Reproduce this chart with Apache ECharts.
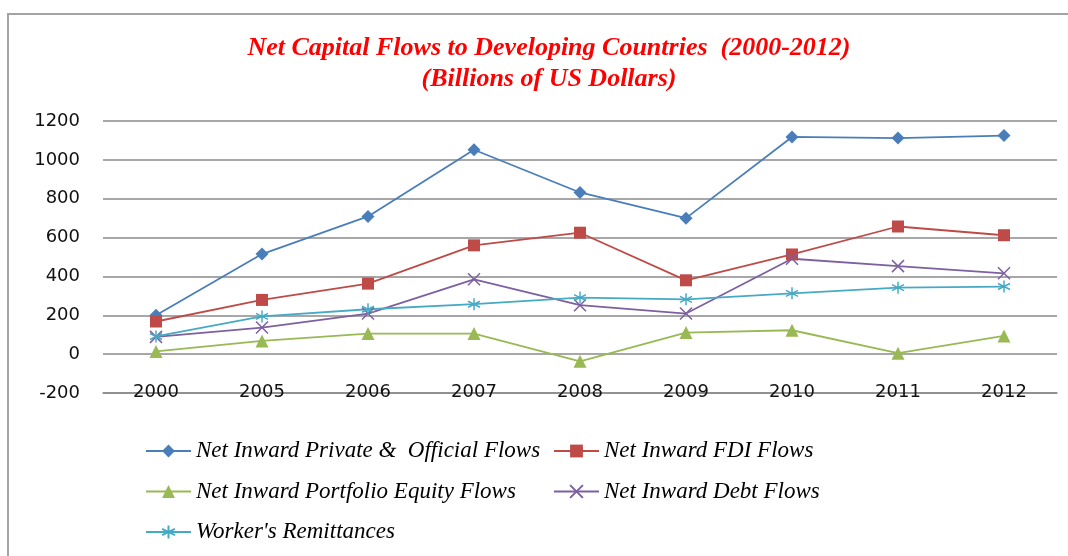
<!DOCTYPE html>
<html>
<head>
<meta charset="utf-8">
<script src="https://cdn.jsdelivr.net/npm/echarts@6/dist/echarts.min.js"></script>
<style>
  html, body { margin: 0; padding: 0; background: #fff; }
  #chart { width: 1068px; height: 556px; }
</style>
</head>
<body>
<div id="chart"></div>
<script>
const years = ['2000', '2005', '2006', '2007', '2008', '2009', '2010', '2011', '2012'];
const privateOfficial = [200, 515, 709, 1052, 832, 700, 1118, 1112, 1125];
const fdi = [168, 279, 363, 560, 625, 380, 513, 657, 612];
const portfolioEquity = [14, 68, 106, 106, -37, 111, 123, 5, 94];
const debt = [89, 137, 209, 385, 252, 209, 491, 453, 416];
const remittances = [91, 194, 231, 257, 291, 282, 313, 342, 348];

const names = [
  'Net Inward Private &  Official Flows',
  'Net Inward FDI Flows',
  'Net Inward Portfolio Equity Flows',
  'Net Inward Debt Flows',
  "Worker's Remittances"
];

const crossPath = 'path://M0,0L10,10M10,0L0,10';
const starPath = 'path://M5,0L5,10M0.7,2.5L9.3,7.5M9.3,2.5L0.7,7.5';

const chart = echarts.init(document.getElementById('chart'));

function lineSeries(name, data, color, symbol, size, hollow) {
  return {
    name: name,
    type: 'line',
    data: data,
    symbol: symbol,
    symbolSize: size,
    showAllSymbol: true,
    lineStyle: { color: color, width: 1.8 },
    itemStyle: hollow
      ? { color: 'none', borderColor: color, borderWidth: 1.5 }
      : { color: color },
    emphasis: { disabled: true },
    animation: false
  };
}

const legendText = {
  fontFamily: 'Liberation Serif',
  fontStyle: 'italic',
  fontSize: 23,
  lineHeight: 24,
  color: '#000'
};

const legendBase = {
  orient: 'vertical',
  top: 439,
  padding: 0,
  itemWidth: 45,
  itemHeight: 16,
  itemGap: 16.5,
  textStyle: legendText
};

chart.setOption({
  backgroundColor: '#fff',
  title: {
    text: 'Net Capital Flows to Developing Countries  (2000-2012)\n(Billions of US Dollars)',
    left: 544,
    top: 28,
    textAlign: 'center',
    textStyle: {
      fontFamily: 'Liberation Serif',
      fontStyle: 'italic',
      fontWeight: 'bold',
      fontSize: 26,
      lineHeight: 31,
      color: '#ff0000'
    }
  },
  graphic: [{
    type: 'rect',
    shape: { x: 8, y: 14, width: 1100, height: 600 },
    style: { fill: 'none', stroke: '#a3a3a3', lineWidth: 2 },
    silent: true
  }],
  legend: [
    Object.assign({ data: [names[0], names[2], names[4]], left: 145 }, legendBase),
    Object.assign({ data: [names[1], names[3]], left: 553 }, legendBase)
  ],
  grid: { left: 103, right: 11, top: 121, bottom: 163 },
  xAxis: {
    type: 'category',
    data: years,
    axisLine: { onZero: false, lineStyle: { color: '#8a8a8a', width: 1.5 } },
    axisTick: { show: false },
    axisLabel: {
      margin: -10,
      fontFamily: 'DejaVu Sans',
      fontSize: 18,
      color: '#111'
    }
  },
  yAxis: {
    type: 'value',
    min: -200,
    max: 1200,
    interval: 200,
    axisLine: { show: false },
    axisTick: { show: false },
    axisLabel: {
      margin: 23,
      fontFamily: 'DejaVu Sans',
      fontSize: 18,
      color: '#111',
      formatter: (v) => String(v)
    },
    splitLine: { lineStyle: { color: '#8a8a8a', width: 1.5 } }
  },
  series: [
    lineSeries(names[0], privateOfficial, '#4a7ebb', 'diamond', 13, false),
    lineSeries(names[1], fdi, '#be4b48', 'rect', 12, false),
    lineSeries(names[2], portfolioEquity, '#98b954', 'triangle', 13, false),
    lineSeries(names[3], debt, '#7d60a0', crossPath, 12, true),
    lineSeries(names[4], remittances, '#46aac5', starPath, 12, true)
  ]
});
</script>
</body>
</html>
